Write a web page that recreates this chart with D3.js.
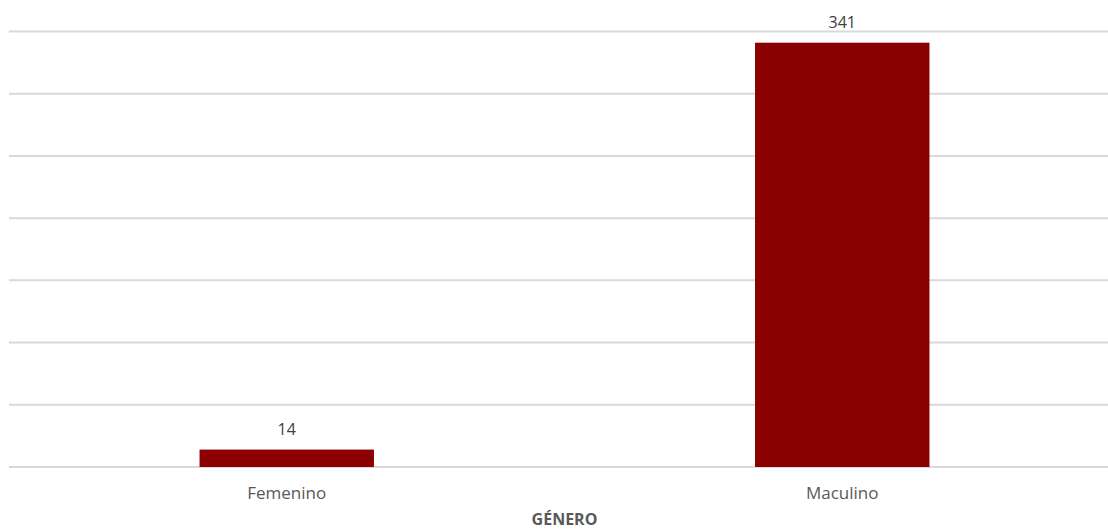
<!DOCTYPE html>
<html><head><meta charset="utf-8">
<script src="https://cdn.jsdelivr.net/npm/d3@7"></script>
<style>html,body{margin:0;padding:0;background:#fff;}svg{display:block;}</style>
</head><body>
<svg id="chart" width="1108" height="529"></svg>
<script>
const categories = ["Femenino", "Maculino"];
const values = [14, 341];
const yTicks = [0, 50, 100, 150, 200, 250, 300, 350];
const axisTitle = "GÉNERO";

const svg = d3.select("#chart");
const font = "'Open Sans', 'Noto Sans', sans-serif";
const y = d3.scaleLinear().domain([0, 350]).range([467, 31.5]);
const x = d3.scaleBand().domain(categories).range([9, 1120]).paddingInner(0.686).paddingOuter(0.343);

svg.append("g").selectAll("line").data(yTicks).join("line")
  .attr("x1", 9).attr("x2", 1108)
  .attr("y1", d => y(d)).attr("y2", d => y(d))
  .attr("stroke", "#d9d9d9").attr("stroke-width", 2);

svg.append("g").selectAll("rect").data(values).join("rect")
  .attr("x", (d, i) => x(categories[i]))
  .attr("width", x.bandwidth())
  .attr("y", d => y(d))
  .attr("height", d => y(0) - y(d))
  .attr("fill", "#8b0000");

svg.append("g").selectAll("text").data(values).join("text")
  .attr("x", (d, i) => x(categories[i]) + x.bandwidth() / 2)
  .attr("y", d => y(d) - 15)
  .attr("text-anchor", "middle")
  .attr("font-family", font).attr("font-size", 16)
  .attr("fill", "#404040")
  .text(d => d);

svg.append("g").selectAll("text").data(categories).join("text")
  .attr("x", d => x(d) + x.bandwidth() / 2)
  .attr("y", 499)
  .attr("text-anchor", "middle")
  .attr("font-family", font).attr("font-size", 17)
  .attr("fill", "#595959")
  .text(d => d);

svg.append("text")
  .attr("x", (x.range()[0] + x.range()[1]) / 2)
  .attr("y", 525)
  .attr("text-anchor", "middle")
  .attr("font-family", font).attr("font-size", 16).attr("font-weight", "bold")
  .attr("fill", "#595959")
  .text(axisTitle);
</script>
</body></html>
